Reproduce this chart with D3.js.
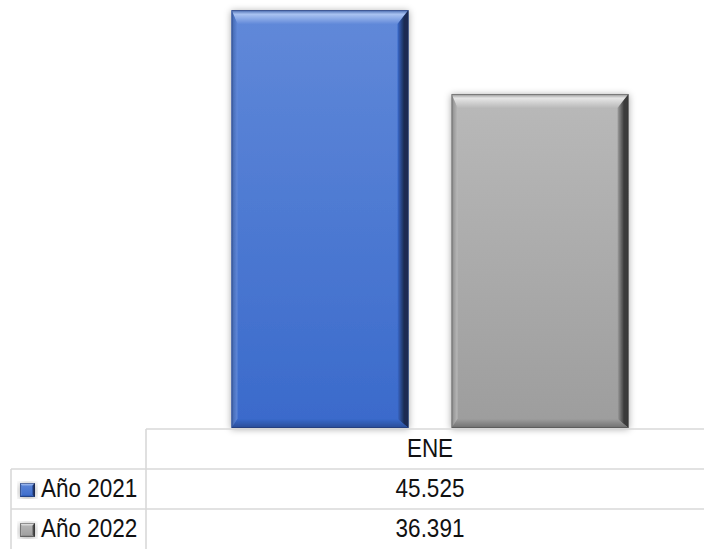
<!DOCTYPE html>
<html><head><meta charset="utf-8">
<script src="https://cdn.jsdelivr.net/npm/d3@7"></script>
<style>html,body{margin:0;padding:0;background:#fff;}svg{display:block;}</style>
</head><body>
<svg id="chart" width="704" height="549"></svg>
<script>
const categories = ["ENE"];
const seriesNames = ["Año 2021", "Año 2022"];
const values2021 = [45525];
const values2022 = [36391];
const yTicks = [0, 50000];

const series = [
  {name: seriesNames[0], values: values2021, key: "blue"},
  {name: seriesNames[1], values: values2022, key: "gray"}
];
const palette = {
  blue: {top:"#6189d9", bot:"#3a6acb", light:"#a9c2f1", edge:"#4668b0", dark:"#1c2b52", left:"#3f63ad", bottom:"#2a4c96"},
  gray: {top:"#b9b9b9", bot:"#9d9d9d", light:"#e6e6e6", edge:"#8f8f8f", dark:"#3a3a3a", left:"#8a8a8a", bottom:"#6e6e6e"}
};

const svg = d3.select("#chart");
const W = 704, H = 549;
const baseY = 428, plotTop = -31;
const tableLeft = 11, colDiv = 146, rowH = 40;

const y = d3.scaleLinear().domain([0, yTicks[1]]).range([baseY, plotTop]);
const x0 = d3.scaleBand().domain(categories).range([colDiv, 714]).paddingInner(0).paddingOuter(0.2153);
const x1 = d3.scaleBand().domain(seriesNames).range([0, x0.bandwidth()]).paddingInner(0.1955);

const fmt = d3.formatLocale({decimal: ",", thousands: ".", grouping: [3], currency: ["", ""]}).format(",d");

const defs = svg.append("defs");
const sh = defs.append("filter").attr("id","shadow").attr("x","-20%").attr("y","-10%").attr("width","140%").attr("height","120%");
sh.append("feDropShadow").attr("dx",0).attr("dy",1).attr("stdDeviation",3.5).attr("flood-color","#000").attr("flood-opacity",0.35);

function lin(id, x1_, y1_, x2_, y2_, stops) {
  const g = defs.append("linearGradient").attr("id", id).attr("x1",x1_).attr("y1",y1_).attr("x2",x2_).attr("y2",y2_);
  stops.forEach(s => g.append("stop").attr("offset", s[0]).attr("stop-color", s[1]));
}
Object.entries(palette).forEach(([k, c]) => {
  lin(k+"-main", 0,0,0,1, [[0,c.top],[1,c.bot]]);
  lin(k+"-topf", 0,0,0,1, [[0,c.edge],[0.3,c.light],[1,c.top]]);
  lin(k+"-right", 0,0,1,0, [[0,c.bot],[0.6,c.dark],[1,c.dark]]);
  lin(k+"-left", 1,0,0,0, [[0,c.top],[1,c.left]]);
  lin(k+"-bottom", 0,0,0,1, [[0,c.bot],[1,c.bottom]]);
});

function bevelBar(g, bx0, by0, bx1, by1, key, bt, bs, br, bb) {
  const grp = g.append("g").attr("filter","url(#shadow)");
  grp.append("rect").attr("x",bx0).attr("y",by0).attr("width",bx1-bx0).attr("height",by1-by0).attr("fill",`url(#${key}-main)`);
  const poly = (pts, fill) => grp.append("polygon").attr("points", pts.map(p=>p.join(",")).join(" ")).attr("fill", fill);
  poly([[bx0,by0],[bx1,by0],[bx1-br,by0+bt],[bx0+bs,by0+bt]], `url(#${key}-topf)`);
  poly([[bx0,by0],[bx0+bs,by0+bt],[bx0+bs,by1-bb],[bx0,by1]], `url(#${key}-left)`);
  poly([[bx1,by0],[bx1,by1],[bx1-br,by1-bb],[bx1-br,by0+bt]], `url(#${key}-right)`);
  poly([[bx0,by1],[bx0+bs,by1-bb],[bx1-br,by1-bb],[bx1,by1]], `url(#${key}-bottom)`);
  grp.append("rect").attr("x",bx0+0.5).attr("y",by0+0.5).attr("width",bx1-bx0-1).attr("height",by1-by0-1)
     .attr("fill","none").attr("stroke", palette[key].dark).attr("stroke-opacity",0.35);
}

// bars
const barsG = svg.append("g");
categories.forEach((cat, ci) => {
  series.forEach(s => {
    const bx = x0(cat) + x1(s.name);
    bevelBar(barsG, bx, y(s.values[ci]), bx + x1.bandwidth(), y(0), s.key, 14, 6, 11, 9);
  });
});

// table
const grid = svg.append("g").attr("stroke","#d9d9d9").attr("stroke-width",1.6).attr("fill","none");
grid.append("line").attr("x1",colDiv).attr("x2",W).attr("y1",baseY+1).attr("y2",baseY+1);
grid.append("line").attr("x1",colDiv).attr("x2",colDiv).attr("y1",baseY+1).attr("y2",H);
grid.append("line").attr("x1",tableLeft).attr("x2",W).attr("y1",baseY+1+rowH).attr("y2",baseY+1+rowH);
grid.append("line").attr("x1",tableLeft).attr("x2",W).attr("y1",baseY+1+2*rowH).attr("y2",baseY+1+2*rowH);
grid.append("line").attr("x1",tableLeft).attr("x2",tableLeft).attr("y1",baseY+1+rowH).attr("y2",H);

const font = "'Liberation Sans', Arial, sans-serif";
function txt(xp, yp, t, anchor) {
  svg.append("text").attr("transform", `translate(${xp},${yp}) scale(0.9,1)`)
    .attr("text-anchor", anchor).attr("font-family", font).attr("font-size", 25).attr("fill", "#111").text(t);
}
categories.forEach(cat => txt(x0(cat) + x0.bandwidth()/2, baseY + 29, cat, "middle"));
series.forEach((s, i) => {
  const rowTop = baseY + 1 + rowH*(i+1);
  const m = svg.append("g");
  bevelBar(m, 20, rowTop+14, 35, rowTop+28, s.key, 3, 2, 3, 2);
  txt(41, rowTop + 28, s.name, "start");
  categories.forEach((cat, ci) => txt(x0(cat) + x0.bandwidth()/2, rowTop + 28, fmt(s.values[ci]), "middle"));
});
</script>
</body></html>
